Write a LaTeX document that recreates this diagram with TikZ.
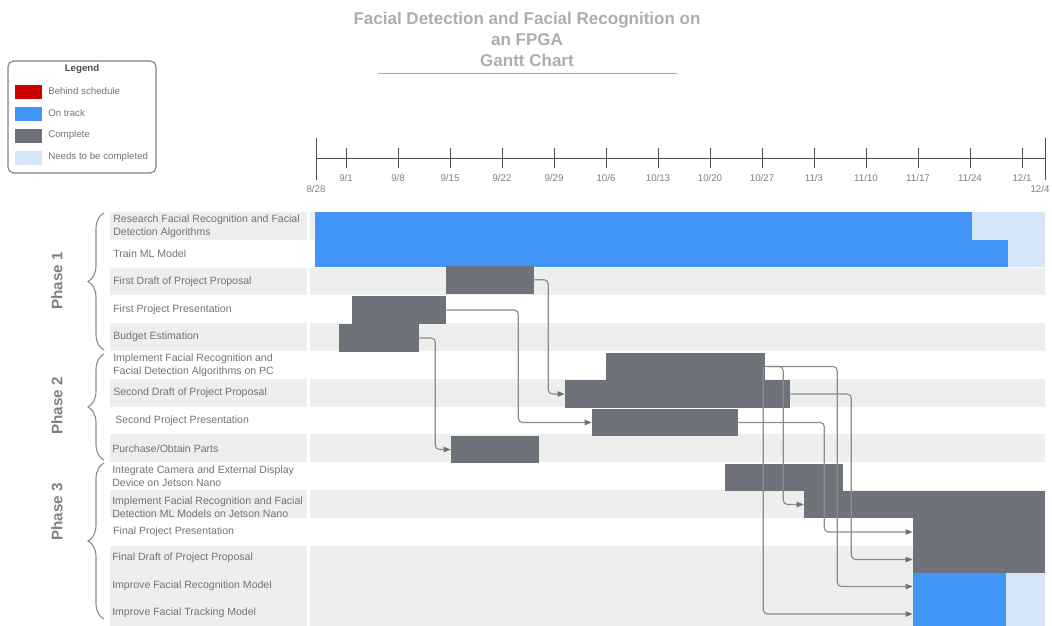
\documentclass[tikz,border=0pt]{standalone}
\usepackage{fontspec}
\setmainfont{Liberation Sans}
\usetikzlibrary{arrows.meta,fit,calc,decorations.pathreplacing}
\definecolor{behind}{HTML}{C80000}
\definecolor{ontrack}{HTML}{4095F7}
\definecolor{complete}{HTML}{6F727A}
\definecolor{tobedone}{HTML}{D5E6FB}
\definecolor{rowgray}{HTML}{EDEEEE}
\definecolor{labelgray}{HTML}{737373}
\definecolor{linkgray}{HTML}{8C8C8C}
\tikzset{
  ganttbar/.style={fill=#1,draw=none,inner sep=0pt},
  task/.style={anchor=west,align=left,inner sep=0pt,text=labelgray,font=\fontsize{7.5}{9.2}\selectfont},
  depline/.style={draw=linkgray,line width=0.8pt,rounded corners=3pt,-{Triangle[length=5pt,width=3.8pt,color=complete]}},
  axisline/.style={draw=black!70,line width=0.7pt},
  datelab/.style={inner sep=0pt,text=black!50,font=\fontsize{6.9}{7.5}\selectfont},
  legtext/.style={anchor=west,inner sep=0pt,text=labelgray,font=\fontsize{6.9}{7.5}\selectfont},
  phasebrace/.style={draw=black!45,line width=0.8pt,decorate,decoration={brace,amplitude=0.4cm}},
  phase/.style={rotate=90,inner sep=0pt,text=black!50,font=\bfseries\fontsize{10.8}{12}\selectfont}
}
\begin{document}
\begin{tikzpicture}[x=0.025cm,y=-0.025cm]
\useasboundingbox (0,0) rectangle (1052,625);
% title
\node[align=center,text=black!32,font=\bfseries\fontsize{12.1}{14.9}\selectfont] (title) at (527,39) {Facial Detection and Facial Recognition on\\an FPGA\\Gantt Chart};
\draw[black!35,line width=0.7pt] (378,73) -- (677,73);
% legend
\node[draw=black!50,line width=0.8pt,rounded corners=4pt,inner sep=0pt,fit={(8,61) (156,173)}] (legend) {};
\node[inner sep=0pt,text=black!70,font=\bfseries\fontsize{6.9}{7.5}\selectfont] (legendtitle) at (82,69) {Legend};
\node[ganttbar=behind,fit={(15,85) (42,99)}] (swbehind) {};
\node[legtext] (ltbehind) at (48,91) {Behind schedule};
\node[ganttbar=ontrack,fit={(15,107) (42,121)}] (swontrack) {};
\node[legtext] (ltontrack) at (48,113) {On track};
\node[ganttbar=complete,fit={(15,129) (42,143)}] (swcomplete) {};
\node[legtext] (ltcomplete) at (48,135) {Complete};
\node[ganttbar=tobedone,fit={(15,151) (42,165)}] (swtobedone) {};
\node[legtext] (lttobedone) at (48,157) {Needs to be completed};
% time axis
\draw[axisline] (316,158) -- (1045,158);
\draw[axisline] (316,138) -- (316,180);
\draw[axisline] (1045,138) -- (1045,180);
\node[datelab] (dstart) at (316,189) {8/28};
\node[datelab] (dend) at (1040,189) {12/4};
\foreach \m/\d [count=\i] in {9/1,9/8,9/15,9/22,9/29,10/6,10/13,10/20,10/27,11/3,11/10,11/17,11/24,12/1} {
  \draw[axisline] ({294+52*\i},148) -- ({294+52*\i},168);
  \node[datelab] (d\i) at ({294+52*\i},178) {\m/\d};
}
% row stripes
\foreach \k in {0,2,4,6,8,10,12,13,14} {
  \fill[rowgray] (110,{212+27.8*\k}) rectangle (307,{239.8+27.8*\k});
  \fill[rowgray] (310,{212+27.8*\k}) rectangle (1045,{239.8+27.8*\k});
}
% bars
\node[ganttbar=ontrack,fit={(315,212) (972,240)}] (research) {};
\node[ganttbar=tobedone,fit={(972,212) (1045,240)}] (researchrest) {};
\node[ganttbar=ontrack,fit={(315,240) (1008,267)}] (trainml) {};
\node[ganttbar=tobedone,fit={(1008,240) (1045,267)}] (trainmlrest) {};
\node[ganttbar=complete,fit={(446,266) (534,293.5)}] (draft1) {};
\node[ganttbar=complete,fit={(352,296) (446,324)}] (pres1) {};
\node[ganttbar=complete,fit={(339,324) (419,352)}] (budget) {};
\node[ganttbar=complete,fit={(606,353) (765,380)}] (implpc) {};
\node[ganttbar=complete,fit={(565,380) (790,408)}] (draft2) {};
\node[ganttbar=complete,fit={(592,409) (738,436)}] (pres2) {};
\node[ganttbar=complete,fit={(451,436) (539,463)}] (parts) {};
\node[ganttbar=complete,fit={(725,464) (843,491)}] (camera) {};
\node[ganttbar=complete,fit={(804,491) (1045,518)}] (jetson) {};
\node[ganttbar=complete,fit={(913,518) (1045,546)}] (finalpres) {};
\node[ganttbar=complete,fit={(913,546) (1045,573)}] (finaldraft) {};
\node[ganttbar=ontrack,fit={(913,573) (1006,600)}] (recog) {};
\node[ganttbar=tobedone,fit={(1006,573) (1045,600)}] (recogrest) {};
\node[ganttbar=ontrack,fit={(913,600) (1006,628)}] (track) {};
\node[ganttbar=tobedone,fit={(1006,600) (1045,628)}] (trackrest) {};
% dependencies
\draw[depline] (draft1.east) -- ++(14,0) |- (draft2.west);
\draw[depline] (pres1.east) -- ++(72,0) |- (pres2.west);
\draw[depline] (budget.east) -- ++(16,0) |- (parts.west);
\draw[depline] (implpc.east) -- ++(18,0) |- (jetson.west);
\draw[depline] (implpc.east) -- ++(72,0) |- (recog.west);
\draw[depline] ($(implpc.east)+(-2,0)$) |- (track.west);
\draw[depline] (draft2.east) -- ++(61,0) |- (finaldraft.west);
\draw[depline] (pres2.east) -- ++(86,0) |- (finalpres.west);
% task labels
\node[task] (t1) at (113,225.9) {Research Facial Recognition and Facial\\Detection Algorithms};
\node[task] (t2) at (113,253.7) {Train ML Model};
\node[task] (t3) at (113,281.5) {First Draft of Project Proposal};
\node[task] (t4) at (113,309.3) {First Project Presentation};
\node[task] (t5) at (113,337.1) {Budget Estimation};
\node[task] (t6) at (113,364.9) {Implement Facial Recognition and\\Facial Detection Algorithms on PC};
\node[task] (t7) at (113,392.7) {Second Draft of Project Proposal};
\node[task] (t8) at (115,420.5) {Second Project Presentation};
\node[task] (t9) at (112,448.3) {Purchase/Obtain Parts};
\node[task] (t10) at (112,476.1) {Integrate Camera and External Display\\Device on Jetson Nano};
\node[task] (t11) at (112,507.5) {Implement Facial Recognition and Facial\\Detection ML Models on Jetson Nano};
\node[task] (t12) at (113,531.5) {Final Project Presentation};
\node[task] (t13) at (112,557.5) {Final Draft of Project Proposal};
\node[task] (t14) at (112,585.3) {Improve Facial Recognition Model};
\node[task] (t15) at (112,612.5) {Improve Facial Tracking Model};
% phases
\draw[phasebrace] (104,350) -- (104,213);
\draw[phasebrace] (104,460) -- (104,354);
\draw[phasebrace] (104,619) -- (104,463);
\node[phase] (ph1) at (57,281) {Phase 1};
\node[phase] (ph2) at (57,406) {Phase 2};
\node[phase] (ph3) at (57,512) {Phase 3};
\end{tikzpicture}
\end{document}
